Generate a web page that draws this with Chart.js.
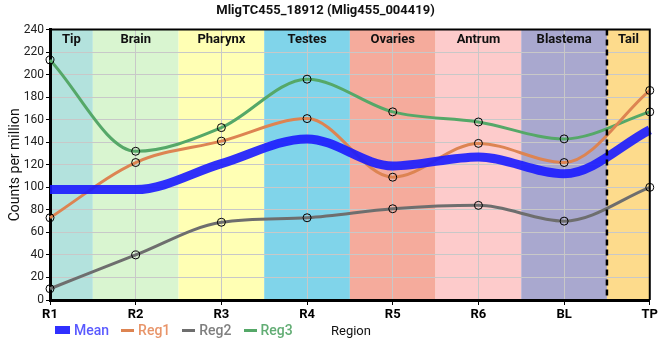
<!DOCTYPE html>
<html>
<head>
<meta charset="utf-8">
<script src="https://cdn.jsdelivr.net/npm/chart.js@4.4.1/dist/chart.umd.min.js"></script>
<style>
  html, body { margin: 0; background: #fff; }
  #wrap { position: relative; width: 660px; height: 360px; }
  .legend {
    position: absolute; left: 55px; top: 322px;
    display: flex; align-items: center;
    font-family: Roboto, "Liberation Sans", sans-serif; font-size: 14px; font-weight: 500;
  }
  .legend .sw { display: inline-block; margin-right: 4px; }
  .legend .txt { margin-right: 11px; }
  .xtitle { position: absolute; left: 331px; top: 323px; font-family: Roboto, "Liberation Sans", sans-serif; font-size: 13px; color: #111; }
</style>
</head>
<body>
<div id="wrap">
  <canvas id="chart" width="660" height="360"></canvas>
  <div class="legend" id="legend"></div>
  <div class="xtitle">Region</div>
</div>
<script>
// данные графика
const regions = ['R1', 'R2', 'R3', 'R4', 'R5', 'R6', 'BL', 'TP'];
const tissues = ['Tip', 'Brain', 'Pharynx', 'Testes', 'Ovaries', 'Antrum', 'Blastema', 'Tail'];
const tissueColors = ['#b3e2dd', '#d9f5d0', '#ffffb4', '#80d4ea', '#f5ab9c', '#fdcbcb', '#a9a8cf', '#fddb8c'];
const meanVals = [98, 98, 121, 143, 119, 127, 112, 151];
const reg1Vals = [73, 122, 141, 161, 109, 139, 122, 186];
const reg2Vals = [10, 40, 69, 73, 81, 84, 70, 100];
const reg3Vals = [213, 132, 153, 196, 167, 158, 143, 167];

const series = [
  { label: 'Mean', data: meanVals, color: 'rgba(25,25,255,0.9)', text: '#5a5aff', width: 9, points: false },
  { label: 'Reg1', data: reg1Vals, color: '#dd8452', text: '#e8956a', width: 3, points: true },
  { label: 'Reg2', data: reg2Vals, color: '#6e6e6e', text: '#7f7f7f', width: 3, points: true },
  { label: 'Reg3', data: reg3Vals, color: '#55a868', text: '#62ad74', width: 3, points: true }
];

const baseFont = 'Roboto, "Liberation Sans", sans-serif';

// фон по тканям, подписи сверху, пунктир и рамка
const bandsPlugin = {
  id: 'bands',
  beforeDraw(chart) {
    const { ctx, chartArea: a, scales: { x } } = chart;
    ctx.save();
    tissues.forEach((t, i) => {
      const l = Math.max(a.left, x.getPixelForValue(i - 0.5));
      const r = Math.min(a.right, x.getPixelForValue(i + 0.5));
      ctx.fillStyle = tissueColors[i];
      ctx.fillRect(l, a.top, r - l, a.bottom - a.top);
    });
    ctx.restore();
  },
  beforeDatasetsDraw(chart) {
    const { ctx, chartArea: a, scales: { x } } = chart;
    ctx.save();
    ctx.font = 'bold 13px ' + baseFont;
    ctx.fillStyle = '#111';
    ctx.textAlign = 'center';
    ctx.textBaseline = 'middle';
    tissues.forEach((t, i) => {
      const l = Math.max(a.left, x.getPixelForValue(i - 0.5));
      const r = Math.min(a.right, x.getPixelForValue(i + 0.5));
      ctx.fillText(t, (l + r) / 2, a.top + 10);
    });
    ctx.restore();
  },
  afterDatasetsDraw(chart) {
    const { ctx, chartArea: a, scales: { x } } = chart;
    ctx.save();
    const px = x.getPixelForValue(regions.length - 1.5);
    ctx.strokeStyle = '#000';
    ctx.lineWidth = 2.5;
    ctx.setLineDash([6, 4]);
    ctx.beginPath();
    ctx.moveTo(px, a.top);
    ctx.lineTo(px, a.bottom);
    ctx.stroke();
    ctx.setLineDash([]);
    ctx.lineWidth = 2;
    ctx.beginPath();
    ctx.moveTo(a.left, a.top);
    ctx.lineTo(a.right, a.top);
    ctx.lineTo(a.right, a.bottom);
    ctx.stroke();
    ctx.restore();
  }
};

new Chart(document.getElementById('chart'), {
  type: 'line',
  data: {
    labels: regions,
    datasets: series.map(s => ({
      label: s.label,
      data: s.data,
      borderColor: s.color,
      backgroundColor: s.color,
      borderWidth: s.width,
      cubicInterpolationMode: 'monotone',
      pointRadius: s.points ? 4 : 0,
      pointBorderColor: '#000',
      pointBorderWidth: 1,
      pointBackgroundColor: 'rgba(0,0,0,0)',
      fill: false
    }))
  },
  options: {
    responsive: false,
    animation: false,
    layout: { padding: { left: 0, right: 9, top: 0, bottom: 38 } },
    plugins: {
      legend: { display: false },
      tooltip: { enabled: false },
      title: {
        display: true,
        text: 'MligTC455_18912 (Mlig455_004419)',
        color: '#111',
        font: { family: baseFont, size: 13, weight: 'bold' },
        padding: { top: 3, bottom: 11 }
      }
    },
    scales: {
      x: {
        offset: false,
        grid: { color: '#c8c8c8', tickColor: '#000', tickLength: 5 },
        border: { color: '#000', width: 3 },
        ticks: { color: '#000', font: { family: baseFont, size: 13, weight: 'bold' }, padding: 2, maxRotation: 0 },
        afterFit: s => { s.width; s.height = 22; }
      },
      y: {
        min: 0, max: 240,
        grid: { color: '#c8c8c8', tickColor: '#000', tickLength: 4 },
        border: { color: '#000', width: 3 },
        ticks: { stepSize: 20, color: '#222', font: { family: baseFont, size: 12 }, padding: 2 },
        title: { display: true, text: 'Counts per million', color: '#111', font: { family: baseFont, size: 14 }, padding: { top: 7, bottom: 0 } },
        afterFit: s => { s.width = 50; }
      }
    }
  },
  plugins: [bandsPlugin]
});

// легенда
const legend = document.getElementById('legend');
legend.innerHTML = series.map(s => {
  const sw = s.points
    ? `<span class="sw" style="width:13px;height:3px;background:${s.color};margin-left:1px"></span>`
    : `<span class="sw" style="width:15px;height:8px;background:${s.color}"></span>`;
  return sw + `<span class="txt" style="color:${s.text}">${s.label}</span>`;
}).join('');
</script>
</body>
</html>
